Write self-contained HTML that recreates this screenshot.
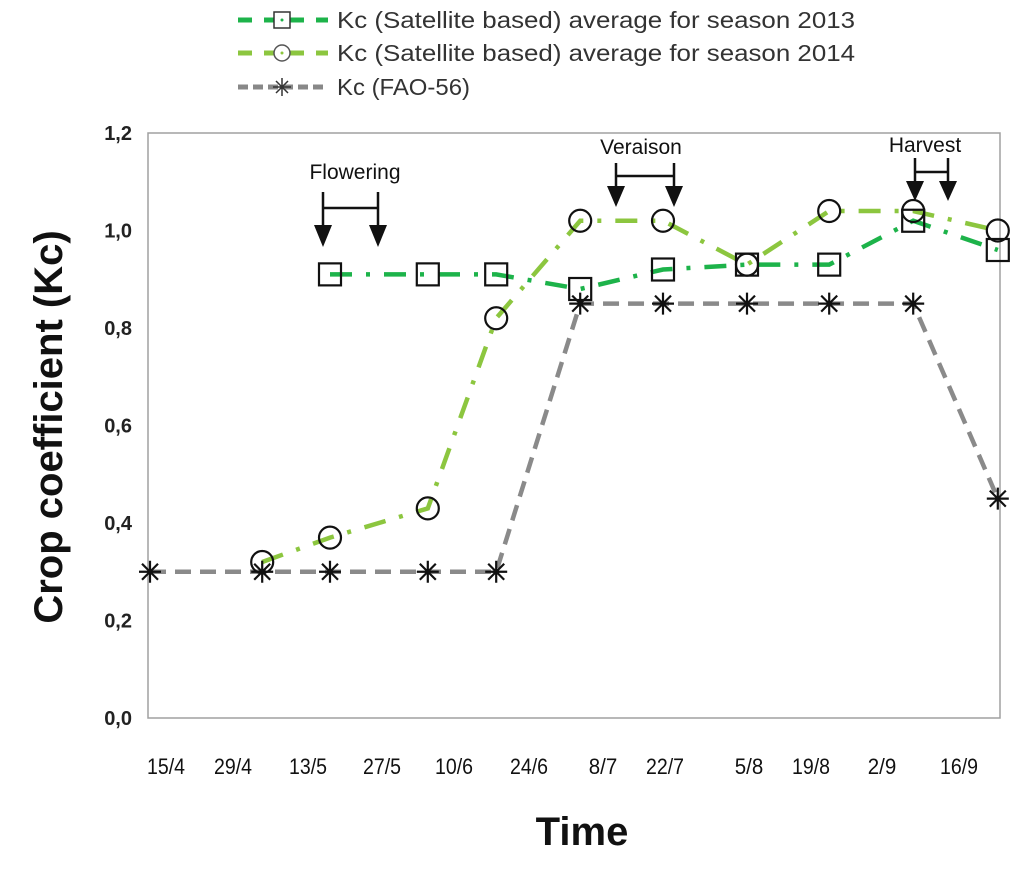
<!DOCTYPE html>
<html><head><meta charset="utf-8"><style>
body{margin:0;background:#fff;}
svg text{font-family:"Liberation Sans","DejaVu Sans",sans-serif;}
</style></head><body>
<svg id="c" width="1024" height="866" xmlns="http://www.w3.org/2000/svg">
<rect x="148" y="133" width="852" height="585" fill="none" stroke="#a0a0a0" stroke-width="1.5"/>
<g id="marks"></g>
<g id="axes"></g>
<g font-size="23" fill="#333">
 <g>
  <line x1="238" y1="20" x2="328" y2="20" stroke="#1db34a" stroke-width="5" stroke-dasharray="14,12"/>
  <rect x="274" y="12" width="16" height="16" fill="#fff" stroke="#333" stroke-width="1.5"/>
  <circle cx="282" cy="20" r="1.5" fill="#1db34a"/>
  <text x="337" y="28" textLength="518" lengthAdjust="spacingAndGlyphs">Kc (Satellite based) average for season 2013</text>
 </g>
 <g>
  <line x1="238" y1="53" x2="328" y2="53" stroke="#8cc63f" stroke-width="5" stroke-dasharray="14,12"/>
  <circle cx="282" cy="53" r="8" fill="#fff" stroke="#555" stroke-width="1.5"/>
  <circle cx="282" cy="53" r="1.5" fill="#8cc63f"/>
  <text x="337" y="61" textLength="518" lengthAdjust="spacingAndGlyphs">Kc (Satellite based) average for season 2014</text>
 </g>
 <g>
  <line x1="238" y1="87" x2="328" y2="87" stroke="#888" stroke-width="5" stroke-dasharray="10,5"/>
  <path d="M273 87h18M282 78v18M276 81l12 12M288 81l-12 12" stroke="#333" stroke-width="1.5"/>
  <text x="337" y="95" textLength="133" lengthAdjust="spacingAndGlyphs">Kc (FAO-56)</text>
 </g>
</g>
<g stroke="#111" stroke-width="2.5" fill="#111">
 <text x="355" y="179" font-size="21" text-anchor="middle" stroke="none">Flowering</text>
 <path d="M323 192v35M378 192v35M323 208h55" fill="none"/>
 <path d="M314 225l9 22 9-22zM369 225l9 22 9-22z" stroke="none"/>
 <text x="641" y="154" font-size="21" text-anchor="middle" stroke="none">Veraison</text>
 <path d="M616 163v26M674 163v26M616 176h58" fill="none"/>
 <path d="M607 186l9 21 9-21zM665 186l9 21 9-21z" stroke="none"/>
 <text x="925" y="152" font-size="21" text-anchor="middle" stroke="none">Harvest</text>
 <path d="M915 158v26M948 158v26M915 172h33" fill="none"/>
 <path d="M906 181l9 20 9-20zM939 181l9 20 9-20z" stroke="none"/>
</g>
<text x="0" y="0" transform="translate(62 427) rotate(-90)" font-size="40" font-weight="bold" text-anchor="middle" fill="#111">Crop coefficient (Kc)</text>
<text x="582" y="845" font-size="40" font-weight="bold" text-anchor="middle" fill="#111">Time</text>
</svg>
<script>
// data: x as day offsets since first FAO point
const faoDays=[0,18.7,30,46.3,57.7,71.7,85.5,99.5,113.2,127.2,141.3];
const faoKc=[0.3,0.3,0.3,0.3,0.3,0.85,0.85,0.85,0.85,0.85,0.45];
const s2013Days=[30,46.3,57.7,71.7,85.5,99.5,113.2,127.2,141.3];
const s2013Kc=[0.91,0.91,0.91,0.88,0.92,0.93,0.93,1.02,0.96];
const s2014Days=[18.7,30,46.3,57.7,71.7,85.5,99.5,113.2,127.2,141.3];
const s2014Kc=[0.32,0.37,0.43,0.82,1.02,1.02,0.93,1.04,1.04,1.00];
const yTicks=[0,0.2,0.4,0.6,0.8,1.0,1.2];
const yTickLabels=["0,0","0,2","0,4","0,6","0,8","1,0","1,2"];
const xTickLabels=["15/4","29/4","13/5","27/5","10/6","24/6","8/7","22/7","5/8","19/8","2/9","16/9"];
const xTickPos=[166,233,308,382,454,529,603,665,749,811,882,959];

const NS="http://www.w3.org/2000/svg";
const X=d=>150+d*6;
const Y=v=>718-v*487.5;
const marks=document.getElementById('marks'), axes=document.getElementById('axes');
function mk(tag,attrs,parent){const e=document.createElementNS(NS,tag);for(const k in attrs)e.setAttribute(k,attrs[k]);parent.appendChild(e);return e;}

yTicks.forEach((v,i)=>{
  const t=mk('text',{x:132,y:Y(v)+7,'font-size':20,'font-weight':'bold','text-anchor':'end',fill:'#222'},axes);
  
  
  t.textContent=yTickLabels[i];
});
xTickLabels.forEach((l,i)=>{
  const t=mk('text',{x:xTickPos[i],y:774,'font-size':22,'text-anchor':'middle',fill:'#111',textLength:l.length*9.5,lengthAdjust:'spacingAndGlyphs'},axes);
  
  
  t.textContent=l;
});
function pts(ds,vs){return ds.map((d,i)=>X(d)+','+Y(vs[i])).join(' ');}
const l14=mk('polyline',{points:pts(s2014Days,s2014Kc),fill:'none',stroke:'#8cc63f','stroke-width':4.5,'stroke-dasharray':'22,14,4,14'},marks);


const l13=mk('polyline',{points:pts(s2013Days,s2013Kc),fill:'none',stroke:'#1db34a','stroke-width':4.5,'stroke-dasharray':'22,14,4,14'},marks);


const lf=mk('polyline',{points:pts(faoDays,faoKc),fill:'none',stroke:'#8a8a8a','stroke-width':4.5,'stroke-dasharray':'16,9'},marks);


s2013Days.forEach((d,i)=>{
  const r=mk('rect',{x:X(d)-11,y:Y(s2013Kc[i])-11,width:22,height:22,fill:'none',stroke:'#111','stroke-width':2.2},marks);
  
  
});
s2014Days.forEach((d,i)=>{
  const c=mk('circle',{cx:X(d),cy:Y(s2014Kc[i]),r:11,fill:'none',stroke:'#111','stroke-width':2.2},marks);
  
  
});
faoDays.forEach((d,i)=>{
  const x=X(d),y=Y(faoKc[i]);
  const p=mk('path',{d:`M${x-11} ${y}h22M${x} ${y-11}v22M${x-8} ${y-8}l16 16M${x+8} ${y-8}l-16 16`,stroke:'#111','stroke-width':2.2},marks);
  
  
});
</script>
</body></html>
